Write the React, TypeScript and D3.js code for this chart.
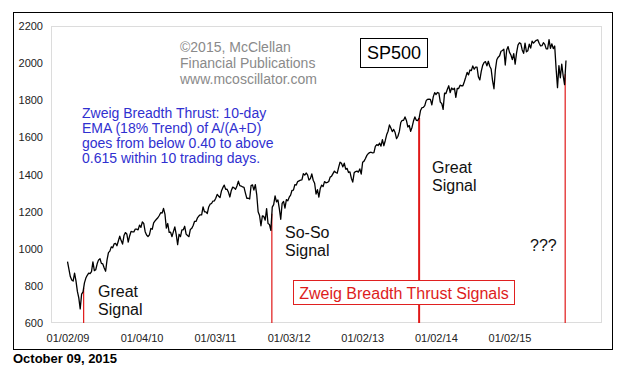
import React, { useRef, useEffect } from "react";
import * as d3 from "d3";

// S&P 500 weekly closes (Fridays)
const sp2009 = [931, 890, 850, 832, 826, 869, 827, 770, 735, 676, 756, 768, 816, 842, 857, 869, 866, 877, 929, 882, 887, 919, 940, 946, 921, 918, 896, 879, 940, 979, 987, 1010, 1005, 1026, 1029, 1016, 1042, 1068, 1044, 1025, 1071, 1087, 1080, 1036, 1069, 1093, 1091, 1091, 1106, 1106, 1102, 1127];
const sp2010 = [1115, 1145, 1136, 1092, 1074, 1066, 1075, 1109, 1105, 1139, 1150, 1159, 1167, 1179, 1194, 1192, 1217, 1187, 1111, 1136, 1088, 1089, 1065, 1092, 1118, 1076, 1022, 1078, 1065, 1102, 1102, 1121, 1079, 1071, 1065, 1104, 1110, 1125, 1148, 1147, 1166, 1176, 1183, 1183, 1225, 1199, 1199, 1190, 1225, 1240, 1244, 1257, 1258];
const sp2011 = [1272, 1293, 1283, 1276, 1311, 1329, 1343, 1320, 1321, 1304, 1279, 1314, 1332, 1328, 1320, 1338, 1364, 1340, 1338, 1333, 1331, 1300, 1271, 1272, 1268, 1340, 1344, 1316, 1345, 1292, 1199, 1179, 1124, 1177, 1174, 1154, 1216, 1136, 1131, 1099, 1224, 1238, 1285, 1253, 1263, 1216, 1159, 1245, 1255, 1219, 1265, 1258];
const sp2012 = [1278, 1289, 1315, 1316, 1345, 1343, 1362, 1366, 1370, 1371, 1404, 1397, 1408, 1398, 1370, 1378, 1403, 1369, 1353, 1295, 1318, 1278, 1325, 1343, 1335, 1362, 1355, 1357, 1362, 1386, 1391, 1405, 1418, 1411, 1407, 1438, 1466, 1460, 1441, 1461, 1429, 1433, 1411, 1414, 1380, 1359, 1409, 1416, 1418, 1413, 1430, 1402];
const sp2013 = [1466, 1472, 1486, 1503, 1513, 1518, 1520, 1516, 1518, 1551, 1561, 1556, 1569, 1553, 1588, 1555, 1582, 1614, 1633, 1667, 1650, 1631, 1643, 1626, 1593, 1606, 1632, 1680, 1692, 1692, 1710, 1691, 1656, 1664, 1633, 1655, 1688, 1710, 1692, 1691, 1704, 1745, 1760, 1762, 1771, 1798, 1805, 1806, 1805, 1775, 1818, 1841];
const sp2014 = [1831, 1842, 1838, 1790, 1783, 1751, 1838, 1836, 1859, 1878, 1841, 1866, 1857, 1865, 1815, 1864, 1863, 1881, 1878, 1878, 1900, 1924, 1950, 1937, 1963, 1960, 1985, 1967, 1978, 1978, 1925, 1910, 1955, 1988, 2003, 2008, 1985, 2010, 1983, 1968, 1906, 1862, 1964, 2018, 2032, 2040, 2064, 2068, 2075, 1990, 2071, 2089];
const sp2015 = [2058, 2044, 2019, 2051, 1995, 2055, 2097, 2110, 2105, 2071, 2053, 2108, 2061, 2067, 2102, 2081, 2118, 2108, 2116, 2123, 2126, 2107, 2093, 2094, 2110, 2101, 2077, 2077, 2127, 2080, 2104, 2078, 2092, 1971, 1868, 1987, 1921, 1995, 1932, 1884, 2014];

const firstWeek = "2009-01-02";

const xTickDates = ["2009-01-02", "2010-01-04", "2011-01-03", "2012-01-03", "2013-01-02", "2014-01-02", "2015-01-02"];
const xTickLabels = ["01/02/09", "01/04/10", "01/03/11", "01/03/12", "01/02/13", "01/02/14", "01/02/15"];
const yTicks = [600, 800, 1000, 1200, 1400, 1600, 1800, 2000, 2200];

// Zweig breadth thrust signal days
const signalDates = ["2009-03-23", "2011-10-12", "2013-10-11", "2015-10-05"];

const infoLines = ["Zweig Breadth Thrust: 10-day", "EMA (18% Trend) of A/(A+D)", "goes from below 0.40 to above", "0.615 within 10 trading days."];
const creditLines = ["\u00a92015, McClellan", "Financial Publications", "www.mcoscillator.com"];

const FONT = "Arial, 'Liberation Sans', sans-serif";

function App() {
    const svgRef = useRef(null);

    useEffect(() => {
        const svg = d3.select(svgRef.current);
        svg.selectAll("*").remove();

        const parse = d3.timeParse("%Y-%m-%d");
        const start = parse(firstWeek);
        const values = [...sp2009, ...sp2010, ...sp2011, ...sp2012, ...sp2013, ...sp2014, ...sp2015];
        const series = values.map((v, i) => ({ date: d3.timeDay.offset(start, 7 * i), value: v }));

        const x = d3.scaleTime()
            .domain([parse("2009-01-02"), parse("2015-01-02")])
            .range([67.5, 509.5]);
        const y = d3.scaleLinear()
            .domain([600, 2200])
            .range([323, 26]);

        // outer frame
        svg.append("rect")
            .attr("x", 13.5).attr("y", 12.5)
            .attr("width", 599).attr("height", 337)
            .attr("fill", "#fff")
            .attr("stroke", "#000");

        // plot frame (light dotted)
        svg.append("rect")
            .attr("x", 51.5).attr("y", 26.5)
            .attr("width", 550).attr("height", 296)
            .attr("fill", "none")
            .attr("stroke", "#b8b8b8")
            .attr("stroke-dasharray", "1,1");

        const yAxis = d3.axisLeft(y).tickValues(yTicks).tickSize(0).tickPadding(8).tickFormat(d3.format("d"));
        const yg = svg.append("g").attr("transform", "translate(51,0)").call(yAxis);
        yg.select(".domain").remove();
        yg.selectAll("text").attr("font-family", FONT).attr("font-size", 11).attr("fill", "#222");

        const xAxis = d3.axisBottom(x)
            .tickValues(xTickDates.map(parse))
            .tickSize(0)
            .tickPadding(11)
            .tickFormat((d, i) => xTickLabels[i]);
        const xg = svg.append("g").attr("transform", "translate(0,323)").call(xAxis);
        xg.select(".domain").remove();
        xg.selectAll("text").attr("font-family", FONT).attr("font-size", 11).attr("fill", "#222");

        // price at a given day, between two weekly closes
        const bis = d3.bisector(d => d.date).left;
        const valueAt = date => {
            const i = bis(series, date);
            const a = series[i - 1], b = series[i];
            if (!a) return b.value;
            if (!b) return a.value;
            const t = (date - a.date) / (b.date - a.date);
            return a.value + t * (b.value - a.value);
        };

        svg.selectAll(".signal")
            .data(signalDates.map(parse))
            .join("line")
            .attr("class", "signal")
            .attr("x1", d => x(d)).attr("x2", d => x(d))
            .attr("y1", d => y(valueAt(d)))
            .attr("y2", y(600))
            .attr("stroke", "#e01818")
            .attr("stroke-width", (d, i) => (i === 2 ? 2 : 1.2));

        const priceLine = d3.line()
            .x(d => x(d.date))
            .y(d => y(d.value));

        svg.append("path")
            .datum(series)
            .attr("d", priceLine)
            .attr("fill", "none")
            .attr("stroke", "#000")
            .attr("stroke-width", 1.3)
            .attr("stroke-linejoin", "round");

        // credit
        svg.append("g").selectAll("text")
            .data(creditLines)
            .join("text")
            .attr("x", 180).attr("y", (d, i) => 52 + i * 16)
            .attr("font-family", FONT).attr("font-size", 14)
            .attr("fill", "#8a8a8a")
            .text(d => d);

        // SP500 label
        svg.append("rect")
            .attr("x", 360.5).attr("y", 38.5).attr("width", 67).attr("height", 29)
            .attr("fill", "#fff").attr("stroke", "#000");
        svg.append("text")
            .attr("x", 394).attr("y", 59)
            .attr("text-anchor", "middle")
            .attr("font-family", FONT).attr("font-size", 18)
            .text("SP500");

        // explanation
        svg.append("g").selectAll("text")
            .data(infoLines)
            .join("text")
            .attr("x", 82).attr("y", (d, i) => 118 + i * 15)
            .attr("font-family", FONT).attr("font-size", 14)
            .attr("fill", "#3030d0")
            .text(d => d);

        const note = (lines, x0, y0) => {
            svg.append("g").selectAll("text")
                .data(lines)
                .join("text")
                .attr("x", x0).attr("y", (d, i) => y0 + i * 17.5)
                .attr("font-family", FONT).attr("font-size", 16)
                .attr("fill", "#111")
                .text(d => d);
        };
        note(["Great", "Signal"], 98, 297);
        note(["So-So", "Signal"], 285, 238);
        note(["Great", "Signal"], 432, 173);
        note(["???"], 530, 251);

        // legend box
        svg.append("rect")
            .attr("x", 293.5).attr("y", 280.5).attr("width", 221).attr("height", 24)
            .attr("fill", "#fff").attr("stroke", "#e02020");
        svg.append("text")
            .attr("x", 404).attr("y", 299)
            .attr("text-anchor", "middle")
            .attr("font-family", FONT).attr("font-size", 16)
            .attr("fill", "#dd1c1c")
            .text("Zweig Breadth Thrust Signals");

        svg.append("text")
            .attr("x", 13).attr("y", 363)
            .attr("font-family", FONT).attr("font-size", 13).attr("font-weight", "bold")
            .text("October 09, 2015");
    }, []);

    return (
        <svg
            ref={svgRef}
            width={634}
            height={373}
            style={{ position: "absolute", left: 0, top: 0, background: "#fff" }}
        />
    );
}

export default App;
